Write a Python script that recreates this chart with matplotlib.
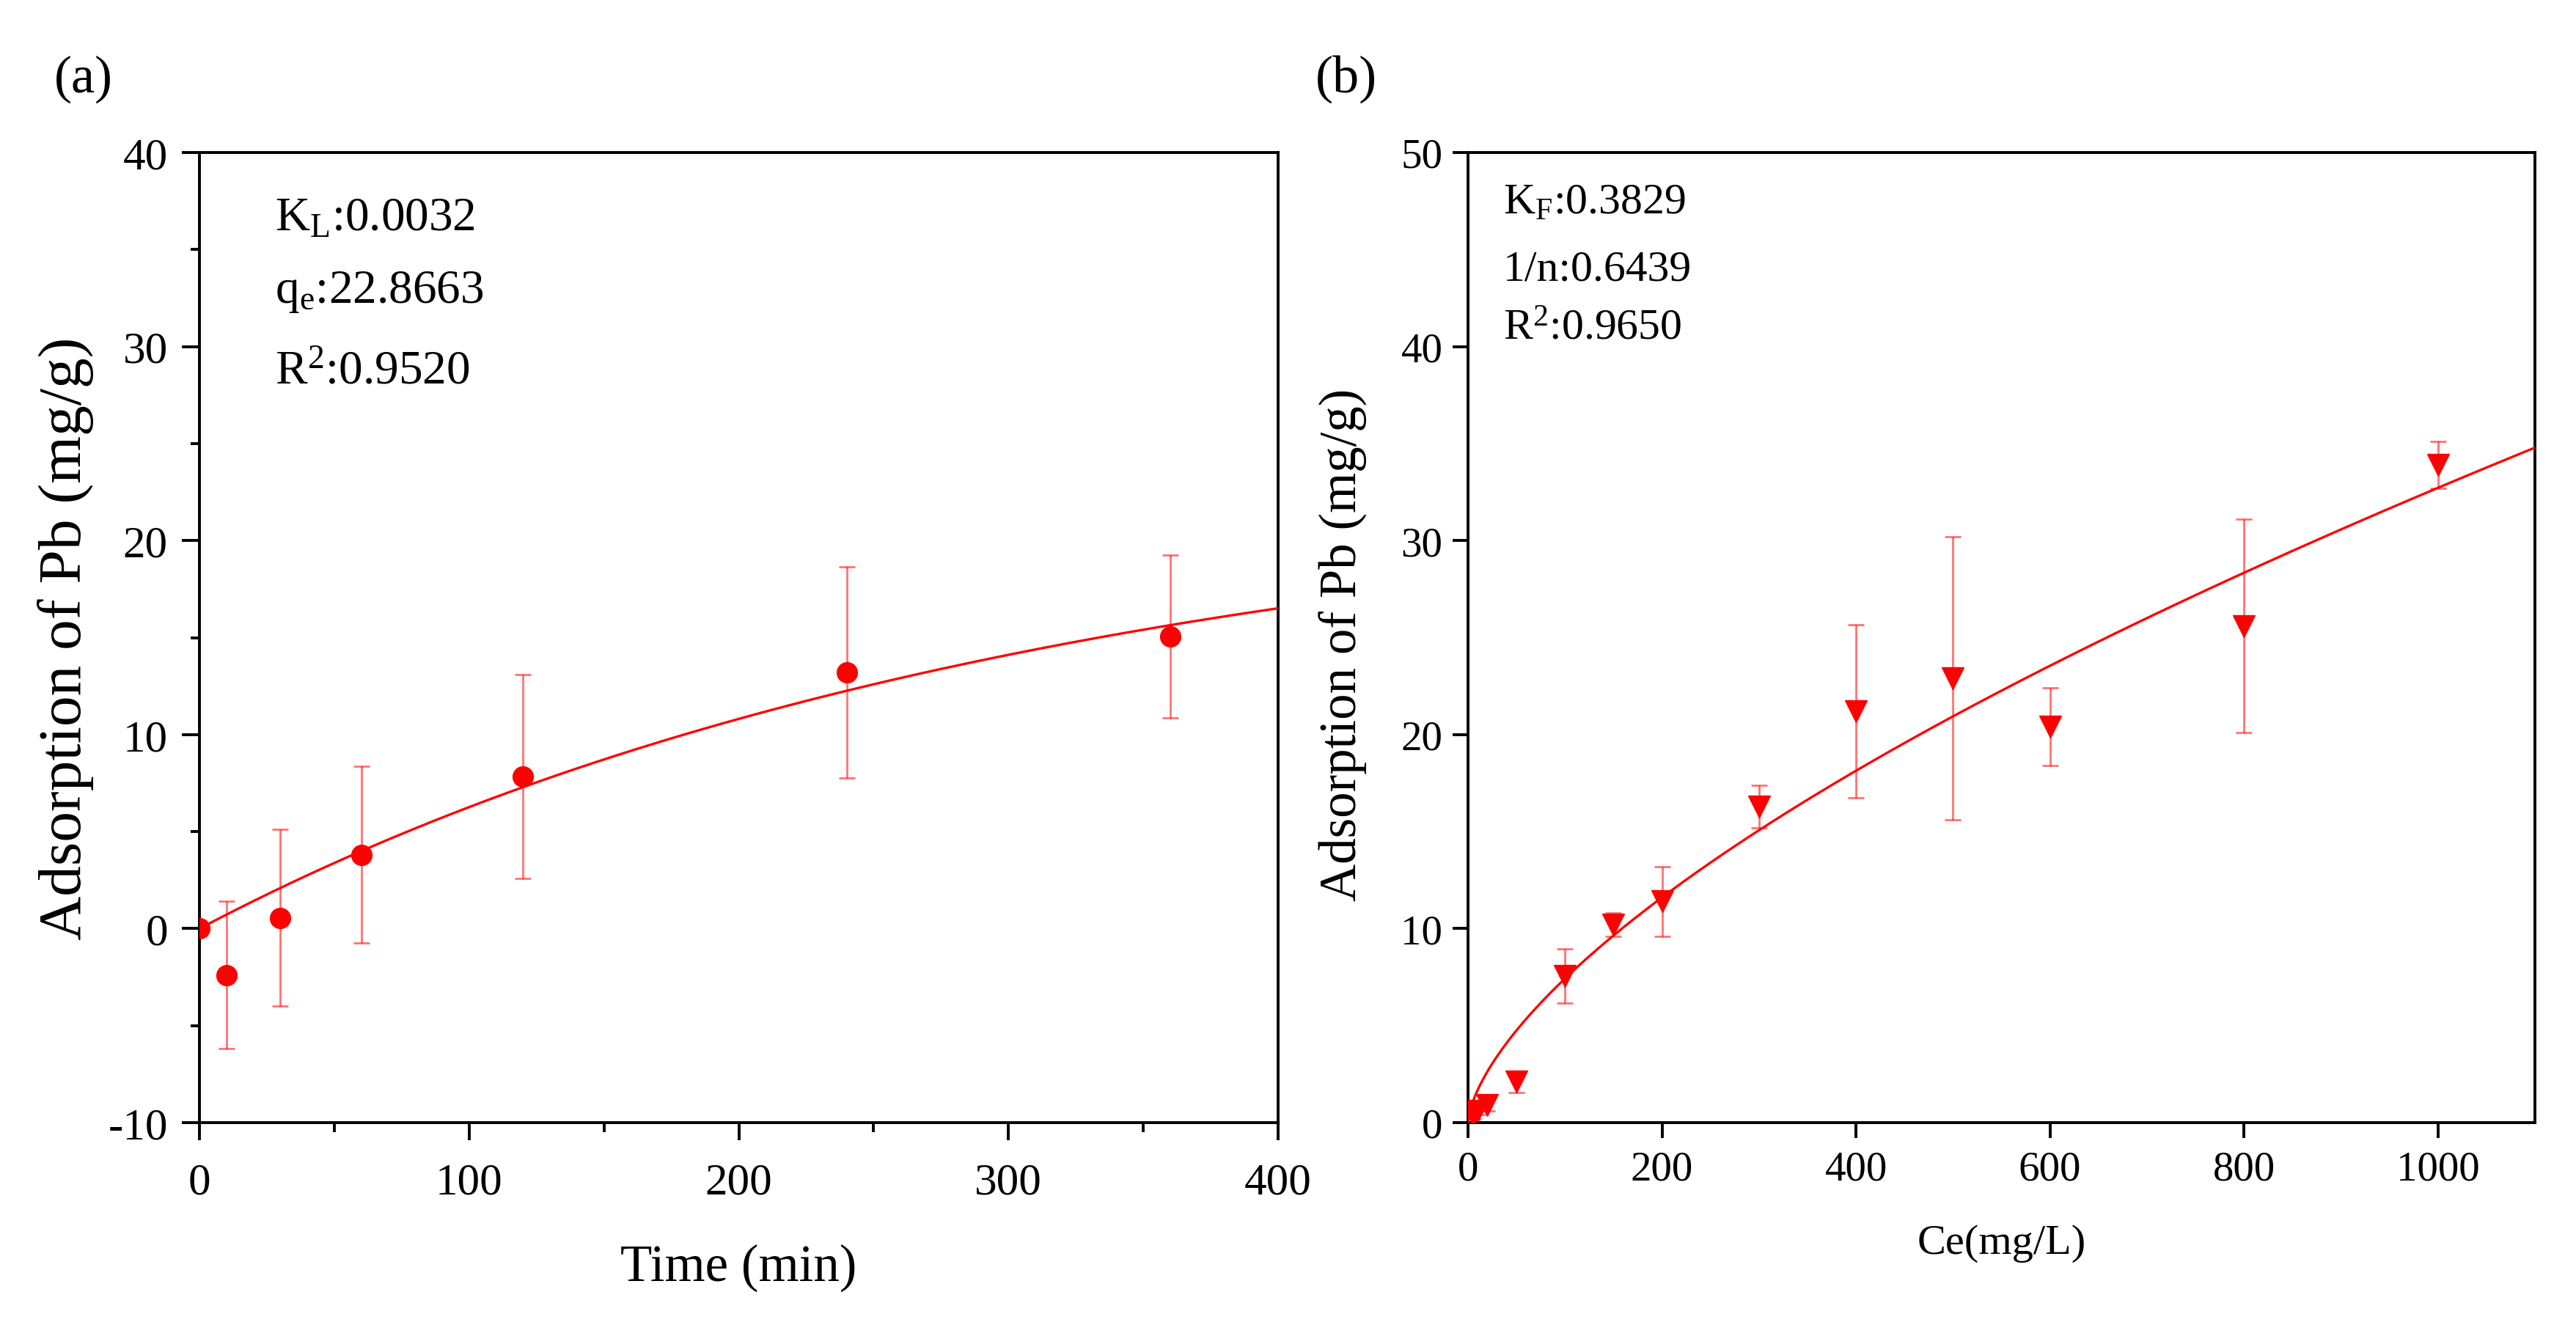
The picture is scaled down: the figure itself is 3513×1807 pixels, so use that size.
import numpy as np
import matplotlib
matplotlib.use("Agg")
import matplotlib.pyplot as plt
from matplotlib.ticker import MultipleLocator

plt.rcParams['font.family'] = ['Liberation Serif', 'DejaVu Serif']
plt.rcParams['mathtext.fontset'] = 'custom'
plt.rcParams['mathtext.rm'] = 'Liberation Serif'
plt.rcParams['mathtext.it'] = 'Liberation Serif:italic'
plt.rcParams['axes.unicode_minus'] = False

# (a) kinetics data
time_min = [0, 10, 30, 60, 120, 240, 360]
q_time = [0.0, -2.4, 0.55, 3.8, 7.85, 13.2, 15.05]
q_time_err = [0.0, 3.8, 4.55, 4.55, 5.25, 5.45, 4.2]
k_l = 0.0032
q_e = 22.8663

# (b) isotherm data
ce = [5, 10, 20, 50, 100, 150, 200, 300, 400, 500, 600, 800, 1000]
q_ce = [0.4, 0.6, 0.9, 2.1, 7.55, 10.2, 11.4, 16.3, 21.2, 22.9, 20.4, 25.6, 33.9]
q_ce_err = [0.2, 0.2, 0.3, 0.55, 1.4, 0.6, 1.8, 1.1, 4.45, 7.3, 2.0, 5.5, 1.2]
k_f = 0.3829
inv_n = 0.6439

red = '#FF0000'
W, H = 3513, 1808
fig = plt.figure(figsize=(W / 100, H / 100), dpi=100)

top = 1 - 209 / H
bot = 1 - 1532 / H
ax1 = fig.add_axes([272 / W, bot, (1743 - 272) / W, top - bot])
ax2 = fig.add_axes([2002 / W, bot, (3457 - 2002) / W, top - bot])

for ax in (ax1, ax2):
    for s in ax.spines.values():
        s.set_linewidth(2.8)
    ax.tick_params(which='both', direction='out', top=False, right=False, width=2.8)

# ---- panel (a)
ax1.errorbar(time_min, q_time, yerr=q_time_err, fmt='none', ecolor=red, alpha=0.55,
             elinewidth=2.0, capsize=8, capthick=2.0, zorder=2)
ax1.plot(time_min, q_time, 'o', color=red, markersize=20, zorder=4)
t_fit = np.linspace(0, 400, 300)
ax1.plot(t_fit, q_e * (1 - np.exp(-k_l * t_fit)), '-', color=red, lw=2.4, zorder=3)
ax1.set_xlim(0, 400)
ax1.set_ylim(-10, 40)
ax1.xaxis.set_major_locator(MultipleLocator(100))
ax1.xaxis.set_minor_locator(MultipleLocator(50))
ax1.yaxis.set_major_locator(MultipleLocator(10))
ax1.yaxis.set_minor_locator(MultipleLocator(5))
ax1.tick_params(which='major', length=17, labelsize=44)
ax1.tick_params(which='minor', length=9)
ax1.tick_params(axis='y', pad=14)
ax1.tick_params(axis='x', pad=22)
ax1.set_xlabel('Time (min)', fontsize=51, va='center')
ax1.xaxis.set_label_coords(0.5, -0.149)
ax1.set_ylabel('Adsorption of Pb (mg/g)', fontsize=60, va='center')
ax1.yaxis.set_label_coords(-0.124, 0.5)
ax1.text(0.070, 0.921, r'K$_{\mathrm{L}}$:0.0032', transform=ax1.transAxes, fontsize=47, va='baseline')
ax1.text(0.070, 0.846, r'q$_{\mathrm{e}}$:22.8663', transform=ax1.transAxes, fontsize=47, va='baseline')
ax1.text(0.070, 0.763, r'R$^{2}$:0.9520', transform=ax1.transAxes, fontsize=47, va='baseline')

# ---- panel (b)
ax2.errorbar(ce, q_ce, yerr=q_ce_err, fmt='none', ecolor=red, alpha=0.55,
             elinewidth=2.0, capsize=8, capthick=2.0, zorder=2)
ax2.plot(ce, q_ce, 'v', color=red, markersize=22, zorder=4)
c_fit = np.linspace(0, 1100, 400)
ax2.plot(c_fit, k_f * c_fit ** inv_n, '-', color=red, lw=2.4, zorder=3)
ax2.set_xlim(0, 1100)
ax2.set_ylim(0, 50)
ax2.xaxis.set_major_locator(MultipleLocator(200))
ax2.yaxis.set_major_locator(MultipleLocator(10))
ax2.tick_params(which='major', length=15, labelsize=41)
ax2.tick_params(axis='y', pad=10)
ax2.tick_params(axis='x', pad=12)
ax2.set_xlabel('Ce(mg/L)', fontsize=42, va='center')
ax2.xaxis.set_label_coords(0.5, -0.124)
ax2.set_ylabel('Adsorption of Pb (mg/g)', fontsize=51, va='center')
ax2.yaxis.set_label_coords(-0.117, 0.493)
ax2.text(0.033, 0.937, r'K$_{\mathrm{F}}$:0.3829', transform=ax2.transAxes, fontsize=43, va='baseline')
ax2.text(0.033, 0.869, '1/n:0.6439', transform=ax2.transAxes, fontsize=43, va='baseline')
ax2.text(0.033, 0.808, r'R$^{2}$:0.9650', transform=ax2.transAxes, fontsize=43, va='baseline')

fig.text(74 / W, 1 - 108 / H, '(a)', fontsize=52, va='center', ha='left')
fig.text(1794 / W, 1 - 108 / H, '(b)', fontsize=52, va='center', ha='left')

fig.savefig('out.png', dpi=100, facecolor='white')
